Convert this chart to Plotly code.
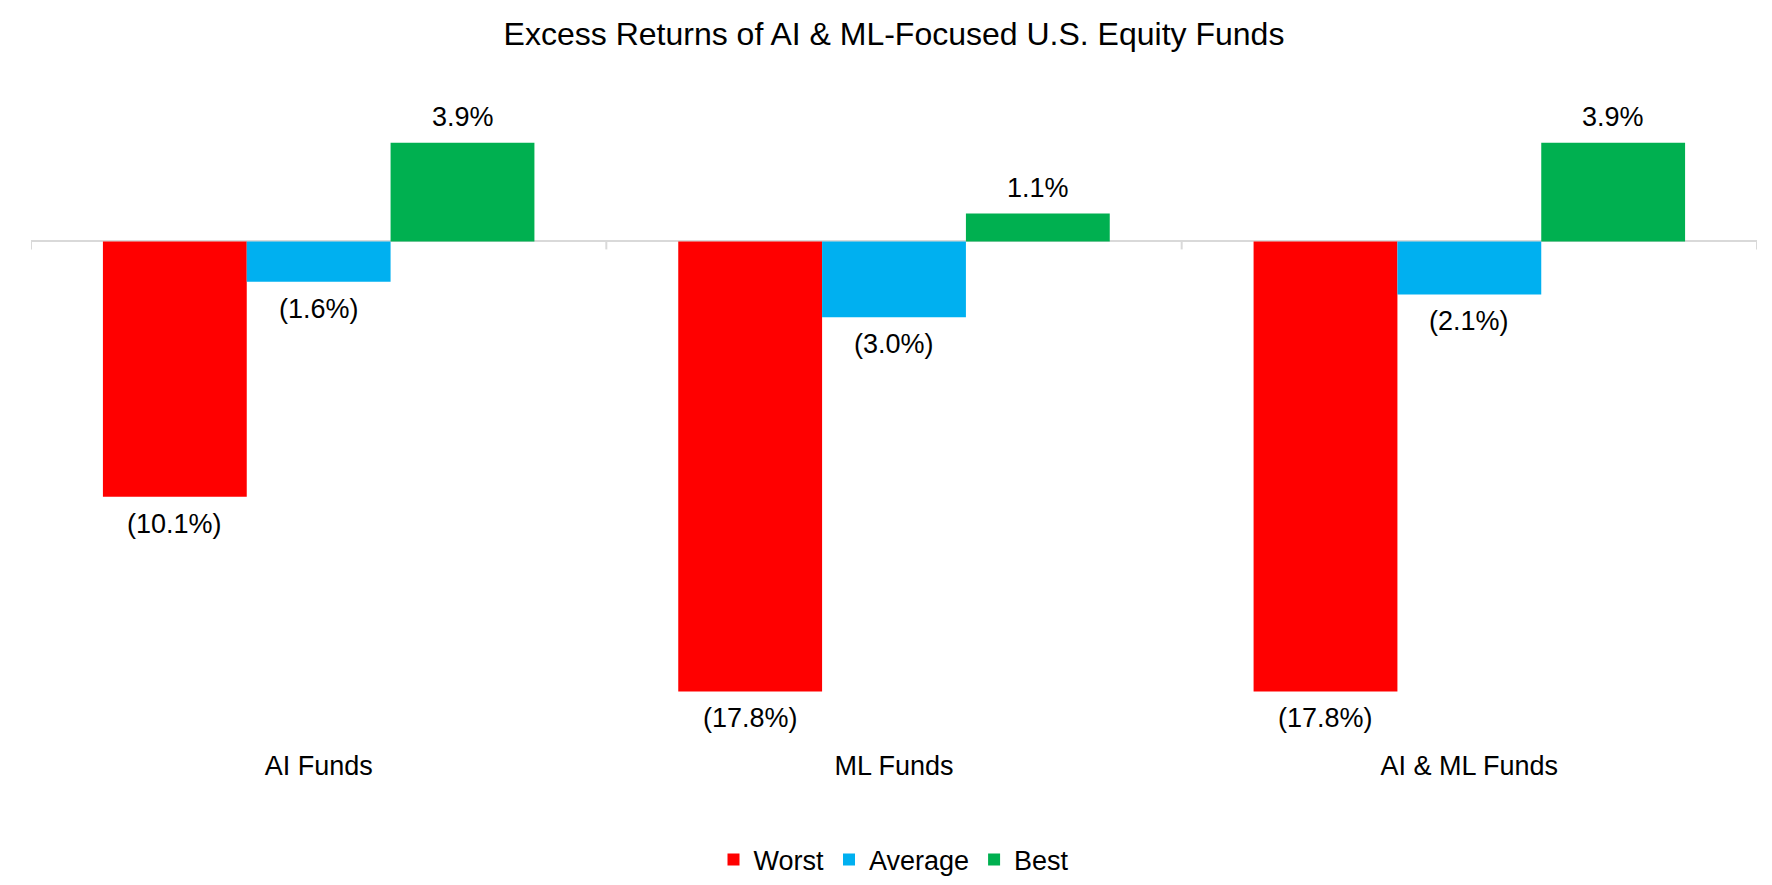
import plotly.graph_objects as go

############################################ DATA
categories = ['AI Funds', 'ML Funds', 'AI & ML Funds']
series_names = ['Worst', 'Average', 'Best']
worst = [-10.1, -17.8, -17.8]
average = [-1.6, -3.0, -2.1]
best = [3.9, 1.1, 3.9]
colors = ['#FF0000', '#00B0F0', '#00B050']

FONT = 'Arial, Liberation Sans, sans-serif'
BARGAP = 0.25


def fmt(v):
    """excel style percent label, negatives in brackets"""
    if v < 0:
        return '({:.1f}%)'.format(-v)
    return '{:.1f}%'.format(v)


############################################ FIGURE
fig = go.Figure()
all_series = [worst, average, best]
n = len(all_series)
bw = (1 - BARGAP) / n
annotations = []
for j, (name, vals, col) in enumerate(zip(series_names, all_series, colors)):
    fig.add_trace(go.Bar(x = categories, y = vals, name = name,
                         marker = dict(color = col, line = dict(width = 0)),
                         hoverinfo = 'x+y'))
    # data labels, outside end like excel
    for i, v in enumerate(vals):
        annotations.append(dict(x = i + (j - (n - 1) / 2) * bw, y = v, xref = 'x', yref = 'y',
                                text = fmt(v), showarrow = False,
                                yanchor = 'bottom' if v >= 0 else 'top',
                                yshift = 9 if v >= 0 else -10,
                                font = dict(family = FONT, size = 27, color = 'black')))

# little ticks hanging off the zero line between categories
shapes = []
for i in range(len(categories) + 1):
    shapes.append(dict(type = 'line', xref = 'x', yref = 'y', x0 = i - 0.5, x1 = i - 0.5,
                       ysizemode = 'pixel', yanchor = 0, y0 = 0, y1 = -8,
                       line = dict(color = '#D9D9D9', width = 2)))

fig.update_layout(
    width = 1772, height = 885,
    margin = dict(l = 23, r = 23, t = 106.5, b = 146, autoexpand = False),
    plot_bgcolor = 'white', paper_bgcolor = 'white',
    barmode = 'group', bargap = BARGAP, bargroupgap = 0,
    title = dict(text = 'Excess Returns of AI & ML-Focused U.S. Equity Funds',
                 x = 0.5, xanchor = 'center', y = 0.9706, yanchor = 'middle',
                 font = dict(family = FONT, size = 32, color = 'black')),
    legend = dict(orientation = 'h', x = 0.5, xanchor = 'center', y = -0.1787, yanchor = 'middle',
                  font = dict(family = FONT, size = 27, color = 'black')),
    shapes = shapes,
    annotations = annotations,
    font = dict(family = FONT, color = 'black'),
)
fig.update_xaxes(range = [-0.5, len(categories) - 0.5], showgrid = False, showline = False,
                 ticks = '', tickfont = dict(family = FONT, size = 27, color = 'black'))
fig.update_yaxes(range = [-20, 5], showgrid = False, showticklabels = False,
                 zeroline = True, zerolinecolor = '#D9D9D9', zerolinewidth = 2)

fig.write_html("out.html")
